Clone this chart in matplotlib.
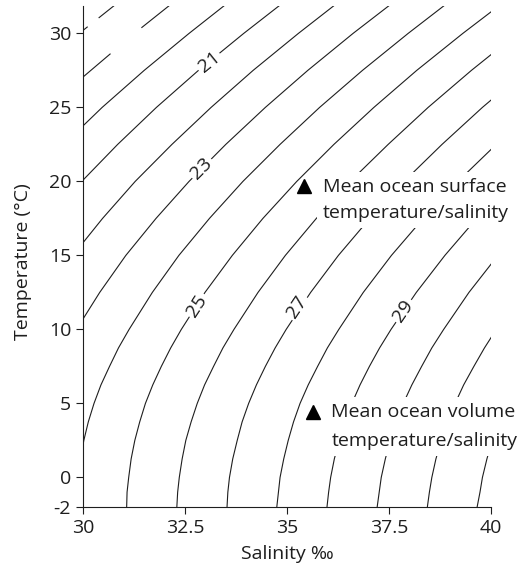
import numpy as np
import matplotlib
matplotlib.use("Agg")
import matplotlib.pyplot as plt

plt.rcParams["font.family"] = ["Open Sans", "DejaVu Sans"]
plt.rcParams["axes.unicode_minus"] = False
plt.rcParams["lines.scale_dashes"] = False

nan = np.nan

# temperature rows (degC) at which the salinity of each isopycnal was read
temps = [-2, -1, 0, 1.25, 2.5, 3.75, 5, 6.25, 7.5, 8.75,
         10, 12.5, 15, 17.5, 20, 22.5, 25, 27.5, 30, 32]

# salinity of each sigma-t line at those temperatures (nan = off the chart)
sig20 = [nan] * 15 + [29.53, 30.47, 31.50, 32.60, 33.52]
sig21 = [nan] * 13 + [29.17, 29.97, 30.85, 31.80, 32.83, 33.94, 34.87]
sig22 = [nan] * 11 + [29.11, 29.75, 30.48, 31.28, 32.18, 33.14, 34.17, 35.28, 36.21]
sig23 = [nan] * 8 + [29.37, 29.59, 29.84, 30.41, 31.05, 31.79, 32.60, 33.50,
                     34.47, 35.51, 36.62, 37.56]
sig24 = [nan, nan, 29.88, 29.94, 30.02, 30.13, 30.27, 30.44, 30.65, 30.87,
         31.13, 31.70, 32.35, 33.10, 33.92, 34.83, 35.80, 36.85, 37.97, 38.91]
sig25 = [31.07, 31.08, 31.12, 31.18, 31.27, 31.39, 31.53, 31.71, 31.92, 32.15,
         32.41, 32.99, 33.66, 34.41, 35.24, 36.15, 37.13, 38.18, 39.31, 40.26]
sig26 = [32.30, 32.32, 32.36, 32.43, 32.52, 32.65, 32.80, 32.98, 33.20, 33.43,
         33.70, 34.29, 34.96, 35.72, 36.55, 37.48, 38.46, 39.52, 40.65, nan]
sig27 = [33.53, 33.55, 33.59, 33.67, 33.78, 33.90, 34.06, 34.25, 34.47, 34.71,
         34.98, 35.58, 36.26, 37.03, 37.87, 38.80, 39.79, 40.86, nan, nan]
sig28 = [34.75, 34.79, 34.83, 34.92, 35.03, 35.16, 35.32, 35.52, 35.75, 35.99,
         36.27, 36.87, 37.56, 38.34, 39.19, 40.13] + [nan] * 4
sig29 = [35.98, 36.02, 36.07, 36.16, 36.28, 36.42, 36.59, 36.79, 37.02, 37.27,
         37.55, 38.17, 38.87, 39.65, 40.51] + [nan] * 5
sig30 = [37.21, 37.26, 37.31, 37.41, 37.53, 37.68, 37.85, 38.06, 38.30, 38.55,
         38.84, 39.46, 40.17] + [nan] * 7
sig31 = [38.44, 38.49, 38.55, 38.65, 38.78, 38.94, 39.12, 39.33, 39.58, 39.84,
         40.13] + [nan] * 9
sig32 = [39.66, 39.73, 39.79, 39.90, 40.03] + [nan] * 15

# the two dashed lines in the top-left corner
sig18_s = [30.0, 30.82]
sig18_t = [30.2, 32.0]
sig19_s = [30.0, 31.26, 32.17]
sig19_t = [27.05, 30.0, 32.0]

# inline contour labels: text, salinity, temperature, angle
lab_text = ["21", "23", "25", "27", "29"]
lab_s = [33.09, 32.91, 32.79, 35.25, 37.84]
lab_t = [28.08, 20.87, 11.62, 11.50, 11.28]
lab_rot = [39, 45, 57, 56.5, 55.7]

# mean ocean points
surf_s, surf_t = 35.42, 19.72
vol_s, vol_t = 35.63, 4.42

xticks = [30, 32.5, 35, 37.5, 40]
xticklabels = ["30", "32.5", "35", "37.5", "40"]
yticks = [-2, 0, 5, 10, 15, 20, 25, 30]

lc = "#1e1e1e"
fs = 14

fig = plt.figure(figsize=(5.21, 5.68), dpi=100)
ax = fig.add_axes([83 / 521, 1 - 507 / 568, 408 / 521, 501 / 568])

for s in [sig20, sig21, sig22, sig23, sig24, sig25, sig26,
          sig27, sig28, sig29, sig30, sig31, sig32]:
    ax.plot(s, temps, color=lc, lw=0.8, zorder=2)

ax.plot(sig18_s, sig18_t, color=lc, lw=0.8, dashes=(4.3, 10.1, 40, 10), zorder=2)
ax.plot(sig19_s, sig19_t, color=lc, lw=0.8, dashes=(26, 29, 60, 10), zorder=2)

for txt, s, t, r in zip(lab_text, lab_s, lab_t, lab_rot):
    ax.text(s, t, txt, rotation=r, rotation_mode="anchor", ha="center", va="center",
            fontsize=fs, color=lc, zorder=3,
            bbox=dict(boxstyle="square,pad=0.12", fc="white", ec="none"))

box = dict(boxstyle="square,pad=0.3", fc="white", ec="none")
ax.text(35.88, 18.74, "Mean ocean surface\ntemperature/salinity", ha="left", va="center",
        fontsize=fs, color=lc, linespacing=1.6, zorder=3, bbox=box)
ax.text(36.09, 3.46, "Mean ocean volume\ntemperature/salinity", ha="left", va="center",
        fontsize=fs, color=lc, linespacing=1.8, zorder=3, bbox=box)
ax.plot([surf_s, vol_s], [surf_t, vol_t], ls="none", marker="^", ms=10,
        color="black", zorder=5, clip_on=False)

ax.set_xlim(30, 40)
ax.set_ylim(-2, 31.85)
ax.set_xticks(xticks)
ax.set_xticklabels(xticklabels)
ax.set_yticks(yticks)
ax.tick_params(direction="out", length=5, width=0.8, labelsize=fs, colors=lc)

for side in ["top", "right"]:
    ax.spines[side].set_visible(False)
for side in ["left", "bottom"]:
    ax.spines[side].set_linewidth(0.8)
    ax.spines[side].set_color(lc)

ax.set_xlabel("Salinity ‰", fontsize=fs, color=lc)
ax.set_ylabel("Temperature (°C)", fontsize=fs, color=lc)
ax.xaxis.set_label_coords(0.5, -0.076)
ax.yaxis.set_label_coords(-0.125, 0.489)

fig.savefig("out.png", dpi=100)
